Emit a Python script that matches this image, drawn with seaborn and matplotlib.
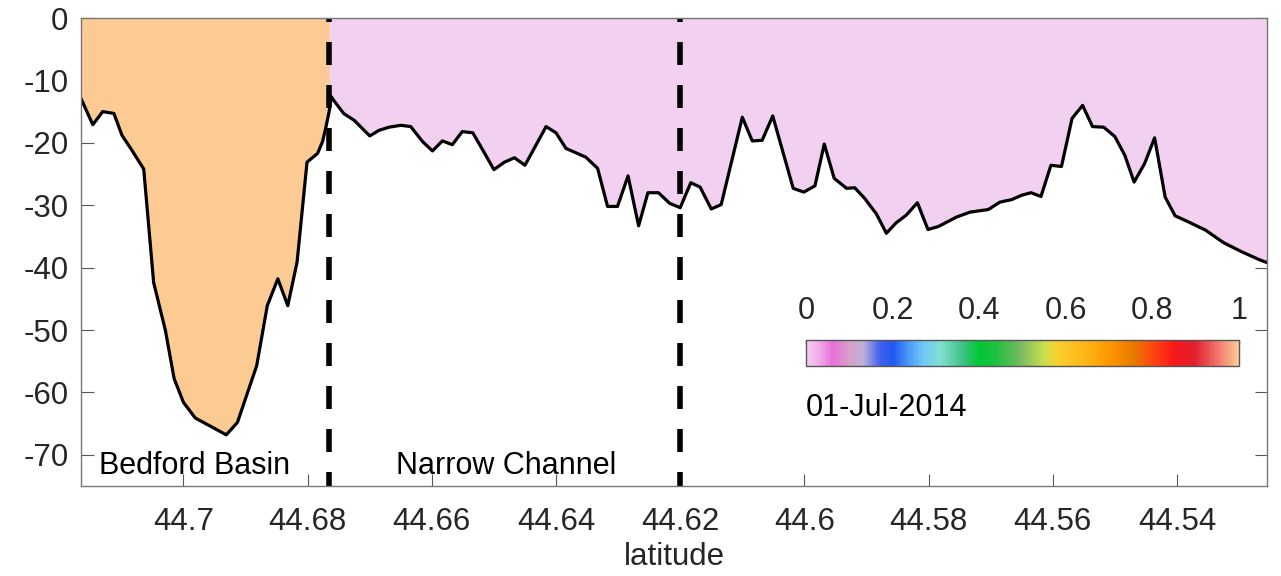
import numpy as np
import pandas as pd
import matplotlib
matplotlib.use("Agg")
import matplotlib.pyplot as plt
import seaborn as sns
from matplotlib.colors import LinearSegmentedColormap, Normalize
from matplotlib.cm import ScalarMappable

# Bottom depth along the harbour transect
latitude = [44.7165, 44.7146, 44.7130, 44.7112, 44.7099, 44.7083, 44.7064, 44.7048, 44.7029, 44.7015,
            44.7000, 44.6981, 44.6957, 44.6931, 44.6913, 44.6882, 44.6865, 44.6848, 44.6832, 44.6817,
            44.6801, 44.6784, 44.6776, 44.6771, 44.6765, 44.6762, 44.6758, 44.6742, 44.6725, 44.6700,
            44.6685, 44.6669, 44.6650, 44.6634, 44.6615, 44.6599, 44.6583, 44.6567, 44.6551, 44.6534,
            44.6516, 44.6500, 44.6483, 44.6467, 44.6450, 44.6416, 44.6400, 44.6384, 44.6368, 44.6352,
            44.6333, 44.6317, 44.6301, 44.6284, 44.6267, 44.6252, 44.6235, 44.6217, 44.6200, 44.6183,
            44.6168, 44.6150, 44.6134, 44.6100, 44.6084, 44.6068, 44.6051, 44.6018, 44.6001, 44.5983,
            44.5968, 44.5952, 44.5932, 44.5919, 44.5903, 44.5884, 44.5868, 44.5852, 44.5836, 44.5818,
            44.5801, 44.5784, 44.5755, 44.5733, 44.5704, 44.5685, 44.5666, 44.5650, 44.5635, 44.5619,
            44.5603, 44.5586, 44.5569, 44.5552, 44.5536, 44.5518, 44.5500, 44.5484, 44.5469, 44.5452,
            44.5436, 44.5419, 44.5403, 44.5381, 44.5354, 44.5325, 44.5295, 44.5268, 44.5255]
depth = [-12.9, -17.1, -15.0, -15.3, -18.8, -21.2, -24.2, -42.4, -50.1, -57.8,
         -61.6, -64.1, -65.4, -66.8, -64.8, -55.7, -46.1, -41.8, -46.1, -39.1,
         -23.1, -21.7, -19.8, -17.7, -14.8, -12.6, -13.2, -15.3, -16.4, -18.9,
         -18.0, -17.5, -17.2, -17.4, -19.8, -21.3, -19.7, -20.3, -18.2, -18.4,
         -21.5, -24.3, -23.1, -22.4, -23.6, -17.4, -18.4, -20.9, -21.6, -22.3,
         -24.1, -30.2, -30.2, -25.3, -33.3, -28.0, -28.0, -29.7, -30.4, -26.4,
         -27.1, -30.6, -29.9, -15.9, -19.7, -19.6, -15.7, -27.3, -27.9, -26.9,
         -20.2, -25.7, -27.3, -27.2, -28.9, -31.4, -34.5, -32.8, -31.6, -29.6,
         -33.9, -33.4, -31.9, -31.1, -30.7, -29.5, -29.1, -28.4, -28.0, -28.6,
         -23.6, -23.8, -16.1, -14.0, -17.4, -17.5, -19.0, -22.0, -26.3, -23.3,
         -19.2, -28.7, -31.7, -32.7, -34.0, -36.0, -37.5, -38.7, -39.2]

# Section boundaries and the scalar shown in each section
boundaries = [44.6765, 44.62]
basin_value = 1.0
channel_value = 0.0
region_names = ["Bedford Basin", "Narrow Channel"]
date_label = "01-Jul-2014"

x_ticks = [44.7, 44.68, 44.66, 44.64, 44.62, 44.6, 44.58, 44.56, 44.54]
y_ticks = [0, -10, -20, -30, -40, -50, -60, -70]
cbar_ticks = [0, 0.2, 0.4, 0.6, 0.8, 1]

# Colour scale
cmap_nodes = [
    (0.00, "#f2d0f0"), (0.03, "#f0a8e8"), (0.06, "#e870d8"), (0.10, "#d8a0c8"),
    (0.13, "#c0b0d8"), (0.17, "#4060f0"), (0.20, "#2058f0"), (0.24, "#50a0f8"),
    (0.27, "#70c8f8"), (0.31, "#80e0d0"), (0.36, "#40c088"), (0.40, "#00c832"),
    (0.44, "#20c040"), (0.49, "#70b860"), (0.55, "#c8e050"), (0.58, "#f8d030"),
    (0.64, "#ffb818"), (0.70, "#ff9800"), (0.76, "#e87800"), (0.80, "#ff4810"),
    (0.85, "#f81818"), (0.90, "#e02030"), (0.95, "#f07068"), (1.00, "#fccb94"),
]
cmap = LinearSegmentedColormap.from_list("section", cmap_nodes)
norm = Normalize(0, 1)

sns.set_theme(style="ticks")
plt.rcParams["font.family"] = ["Liberation Sans", "DejaVu Sans"]
plt.rcParams["axes.unicode_minus"] = False

W, H = 1281, 576
fig = plt.figure(figsize=(W / 100, H / 100), dpi=100)
ax = fig.add_axes([81 / W, 1 - 486 / H, (1267 - 81) / W, (486 - 18) / H])

df = pd.DataFrame({"latitude": latitude, "depth": depth})
lat = df["latitude"].to_numpy()
dep = df["depth"].to_numpy()

# Split the water column at the basin/channel boundary
b = boundaries[0]
order = np.argsort(lat)
d_b = np.interp(b, lat[order], dep[order])
basin = lat >= b
lat_basin = np.append(lat[basin], b)
dep_basin = np.append(dep[basin], d_b)
lat_chan = np.insert(lat[~basin], 0, b)
dep_chan = np.insert(dep[~basin], 0, d_b)

ax.fill_between(lat_basin, dep_basin, 0, color=cmap(norm(basin_value)), lw=0, zorder=1)
ax.fill_between(lat_chan, dep_chan, 0, color=cmap(norm(channel_value)), lw=0, zorder=1)

sns.lineplot(data=df, x="latitude", y="depth", color="black", lw=2.3, ax=ax,
             estimator=None, zorder=3)

for xb in boundaries:
    ax.plot([xb, xb], [0, -75], color="black", lw=4.0,
            linestyle=(3.42, (4.14, 3.6)), zorder=4, solid_capstyle="butt")

ax.set_xlim(44.7165, 44.5255)
ax.set_ylim(-75, 0)
ax.set_xticks(x_ticks)
ax.set_xticklabels([f"{t:g}" for t in x_ticks])
ax.set_yticks(y_ticks)
ax.set_yticklabels([f"{t:g}" for t in y_ticks])
ax.set_xlabel("latitude", fontsize=22.5, color="#262626", labelpad=4)
ax.set_ylabel("")
ax.tick_params(axis="both", direction="in", length=9, width=0.8, color="#555555",
               labelsize=22.5, labelcolor="#262626", top=True, right=True)
ax.tick_params(axis="x", pad=15)
ax.tick_params(axis="y", pad=9)
for s in ax.spines.values():
    s.set_color("#777777")
    s.set_linewidth(1.0)
    s.set_zorder(5)
ax.set_facecolor("white")

ax.text(44.7136, -73.0, region_names[0], fontsize=22, color="black", va="baseline", ha="left", zorder=6)
ax.text(44.6658, -73.0, region_names[1], fontsize=22, color="black", va="baseline", ha="left", zorder=6)

# Inset colour bar
cax = fig.add_axes([806 / W, 1 - 366 / H, (1239 - 806) / W, 26 / H])
sm = ScalarMappable(norm=norm, cmap=cmap)
cb = fig.colorbar(sm, cax=cax, orientation="horizontal", ticks=cbar_ticks)
cax.xaxis.set_ticks_position("top")
cax.xaxis.set_label_position("top")
cax.set_xticklabels([f"{t:g}" for t in cbar_ticks])
cax.tick_params(axis="x", direction="in", length=3, width=1, color="#333333",
                labelsize=22, labelcolor="#262626", pad=10)
cb.outline.set_edgecolor("#555555")
cb.outline.set_linewidth(1.0)
cax.text(0, -1.6, date_label, transform=cax.transAxes, fontsize=22, color="black",
         ha="left", va="center")

fig.savefig("out.png", dpi=100, facecolor="white")
